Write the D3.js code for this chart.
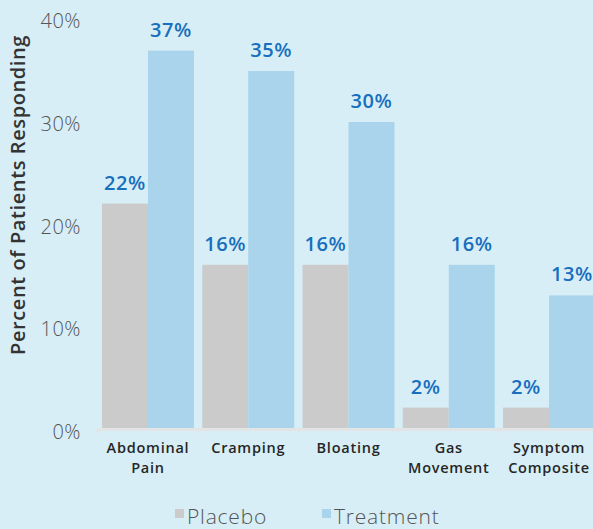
<!DOCTYPE html>
<html>
<head>
<meta charset="utf-8">
<script src="https://cdn.jsdelivr.net/npm/d3@7"></script>
<style>
  html, body { margin: 0; padding: 0; background: #d7eef6; }
  svg { display: block; }
  text { font-family: "Open Sans", Lato, sans-serif; }
</style>
</head>
<body>
<svg id="chart" width="593" height="529"></svg>
<script>
// Responder rates per symptom category
const categories = [["Abdominal", "Pain"], ["Cramping"], ["Bloating"], ["Gas", "Movement"], ["Symptom", "Composite"]];
const seriesNames = ["Placebo", "Treatment"];
const placebo = [22, 16, 16, 2, 2];
const treatment = [37, 35, 30, 16, 13];
const yTicks = [0, 10, 20, 30, 40];

const colors = { Placebo: "#cbcbcb", Treatment: "#a9d4ec" };

const svg = d3.select("#chart");
const W = 593, H = 529;

svg.append("rect").attr("width", W).attr("height", H).attr("fill", "#d7eef6");

const keys = categories.map(c => c.join(" "));
const x0 = d3.scaleBand().domain(keys).range([97, 600]).paddingInner(0.083).paddingOuter(0.05);
const x1 = d3.scaleBand().domain(seriesNames).range([0, x0.bandwidth()]);
const y = d3.scaleLinear().domain([0, 40]).range([428, 20]);

const rows = keys.map((k, i) => ({ key: k, lines: categories[i], Placebo: placebo[i], Treatment: treatment[i] }));

// bars
const groups = svg.append("g").selectAll("g").data(rows).join("g")
  .attr("transform", d => `translate(${x0(d.key)},0)`);

groups.selectAll("rect").data(d => seriesNames.map(s => ({ s, v: d[s] }))).join("rect")
  .attr("x", d => x1(d.s))
  .attr("y", d => y(d.v))
  .attr("width", x1.bandwidth())
  .attr("height", d => y(0) - y(d.v))
  .attr("fill", d => colors[d.s]);

// value labels
groups.selectAll("text.val").data(d => seriesNames.map(s => ({ s, v: d[s] }))).join("text")
  .attr("class", "val")
  .attr("x", d => x1(d.s) + x1.bandwidth() / 2)
  .attr("y", d => y(d.v) - 14)
  .attr("text-anchor", "middle")
  .attr("font-size", 20)
  .attr("font-weight", 600)
  .attr("letter-spacing", 0.6)
  .attr("fill", "#176fbd")
  .text(d => d.v + "%");

// x axis baseline with small ticks at band edges
const xAxis = svg.append("g");
xAxis.append("line")
  .attr("x1", 97).attr("x2", W)
  .attr("y1", y(0) + 1.5).attr("y2", y(0) + 1.5)
  .attr("stroke", "#e2e4e5").attr("stroke-width", 3);
const edges = keys.map(k => x0(k) - x0.step() * x0.paddingInner() / 2);
xAxis.selectAll("line.tk").data(edges).join("line")
  .attr("class", "tk")
  .attr("x1", d => d).attr("x2", d => d)
  .attr("y1", y(0) + 1.5).attr("y2", y(0) + 5)
  .attr("stroke", "#e2e4e5").attr("stroke-width", 3);

// category labels, one text element per line
const catLines = rows.flatMap(d => d.lines.map((t, i) => ({ key: d.key, t, i })));
svg.append("g").selectAll("text").data(catLines).join("text")
  .attr("x", d => x0(d.key) + x0.bandwidth() / 2)
  .attr("y", d => 453 + d.i * 20)
  .attr("text-anchor", "middle")
  .attr("font-size", 14.5)
  .attr("font-weight", 600)
  .attr("letter-spacing", 0.75)
  .attr("fill", "#262626")
  .text(d => d.t);

// y tick labels
svg.append("g").selectAll("text").data(yTicks).join("text")
  .attr("x", 81)
  .attr("y", d => y(d) + 8 + (40 - d) * 0.08)
  .attr("text-anchor", "end")
  .attr("font-size", 20)
  .attr("font-weight", 300)
  .attr("letter-spacing", 0.5)
  .attr("fill", "#555")
  .text(d => d + "%");

// y axis title
svg.append("text")
  .attr("transform", "translate(25,195) rotate(-90)")
  .attr("text-anchor", "middle")
  .attr("font-size", 20)
  .attr("font-weight", 600)
  .attr("letter-spacing", 0.6)
  .attr("fill", "#333")
  .text("Percent of Patients Responding");

// legend
const legendX = [175, 322];
const leg = svg.append("g").selectAll("g").data(seriesNames).join("g")
  .attr("transform", (d, i) => `translate(${legendX[i]},0)`);
leg.append("rect").attr("x", 0).attr("y", 509).attr("width", 9).attr("height", 9)
  .attr("fill", d => colors[d]);
leg.append("text").attr("x", 12).attr("y", 524)
  .attr("font-size", 21).attr("font-weight", 300).attr("letter-spacing", 0.8).attr("fill", "#555")
  .text(d => d);
</script>
</body>
</html>
